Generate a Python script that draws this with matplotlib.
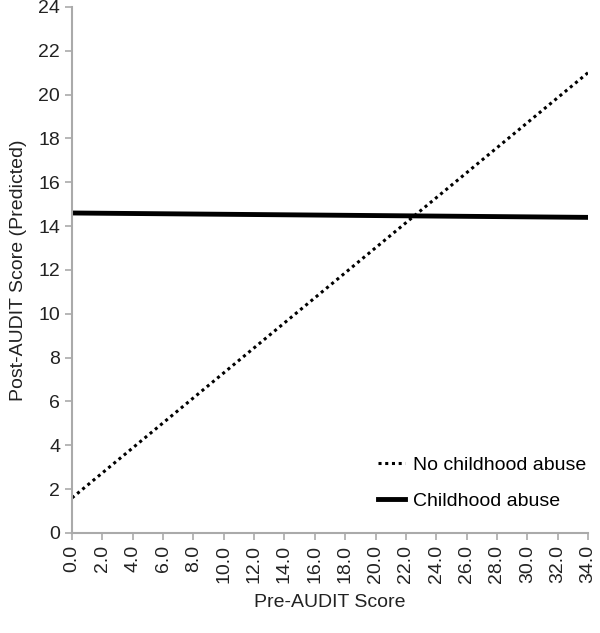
import matplotlib
matplotlib.use("Agg")
import matplotlib.pyplot as plt
import numpy as np

plt.rcParams['font.family'] = ['Liberation Sans', 'DejaVu Sans']

x_vals = [0.0, 34.0]
no_abuse = [1.6, 21.0]
abuse = [14.6, 14.4]
x_ticks = np.arange(0, 35, 2)
y_ticks = np.arange(0, 25, 2)

fig = plt.figure(figsize=(6.0, 6.33), dpi=100)
ax = fig.add_axes([0.12, 0.158, 0.86, 0.831])

ax.plot(x_vals, no_abuse, color='black', linestyle=(0, (1, 1.2)), linewidth=2.2, label='No childhood abuse')
ax.plot(x_vals, abuse, color='black', linestyle='-', linewidth=3.5, label='Childhood abuse')

ax.set_xlim(0, 34)
ax.set_ylim(0, 24)
ax.set_xticks(x_ticks)
ax.set_xticklabels([f"{v:.1f}" for v in x_ticks], rotation=90)
ax.set_yticks(y_ticks)
ax.tick_params(axis='both', labelsize=14, direction='out', length=5, width=1.2,
               color='#aaaaaa', labelcolor='#222222')
for s in ['top', 'right']:
    ax.spines[s].set_visible(False)
for s in ['left', 'bottom']:
    ax.spines[s].set_color('#aaaaaa')
    ax.spines[s].set_linewidth(1.5)

ax.set_xlabel('Pre-AUDIT Score', fontsize=14, color='#222222', labelpad=8)
ax.set_ylabel('Post-AUDIT Score (Predicted)', fontsize=14, color='#222222', labelpad=8)

ax.legend(loc='lower right', frameon=False, fontsize=14, handlelength=1.4, labelspacing=0.95,
          bbox_to_anchor=(1.03, 0.01), handletextpad=0.4)

fig.savefig('out.png', dpi=100)
